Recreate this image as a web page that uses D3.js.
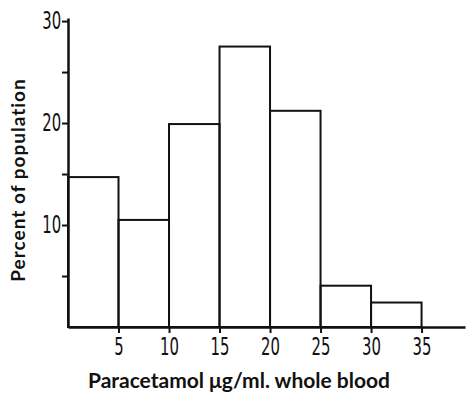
<!DOCTYPE html>
<html>
<head>
<meta charset="utf-8">
<script src="https://cdn.jsdelivr.net/npm/d3@7"></script>
<style>
  body { margin: 0; background: #fff; }
  svg { display: block; }
</style>
</head>
<body>
<div id="chart"></div>
<script>
// bin edges (µg/ml) and percent of population in each bin
const binStarts = [0, 5, 10, 15, 20, 25, 30];
const binWidth = 5;
const percents = [14.7, 10.5, 19.9, 27.5, 21.2, 4.05, 2.4];
const xTicks = [5, 10, 15, 20, 25, 30, 35];
const yTicks = [5, 10, 15, 20, 25, 30];
const yLabelled = [10, 20, 30];

const width = 467;
const height = 394;

const svg = d3.select("#chart").append("svg")
    .attr("width", width)
    .attr("height", height);

const x = d3.scaleLinear().domain([0, 39.3]).range([68, 465]);
const y = d3.scaleLinear().domain([0, 30.3]).range([327, 18]);

// bars
svg.append("g")
    .selectAll("rect")
    .data(binStarts)
    .join("rect")
    .attr("x", d => x(d))
    .attr("y", (d, i) => y(percents[i]))
    .attr("width", d => x(d + binWidth) - x(d))
    .attr("height", (d, i) => y(0) - y(percents[i]))
    .attr("fill", "none")
    .attr("stroke", "#111")
    .attr("stroke-width", 2);

// x axis
const xAxis = svg.append("g")
    .attr("transform", `translate(0,${y(0)})`)
    .call(d3.axisBottom(x).tickValues(xTicks).tickSize(6).tickSizeOuter(0));

// y axis
const yAxis = svg.append("g")
    .attr("transform", `translate(${x(0)},0)`)
    .call(d3.axisLeft(y).tickValues(yTicks).tickSize(6).tickSizeOuter(0)
        .tickFormat(d => yLabelled.includes(d) ? d : ""));

[xAxis, yAxis].forEach(g => {
    g.select(".domain").attr("stroke", "#111").attr("stroke-width", 2.5);
    g.selectAll(".tick line").attr("stroke", "#111").attr("stroke-width", 2);
    g.selectAll(".tick text")
        .attr("fill", "#111")
        .style("font-family", "DejaVu Sans")
        .style("font-size", "24px");
});

xAxis.selectAll(".tick text")
    .attr("y", 11)
    .attr("transform", "scale(0.62,1)");

yAxis.selectAll(".tick text")
    .attr("x", -11)
    .attr("transform", "scale(0.62,1)");

// axis titles
svg.append("text")
    .attr("x", 239)
    .attr("y", 388)
    .attr("text-anchor", "middle")
    .style("font-family", "Lato")
    .style("font-size", "21px")
    .style("font-weight", "bold")
    .attr("fill", "#111")
    .text("Paracetamol μg/ml. whole blood");

svg.append("text")
    .attr("transform", "translate(25,180) rotate(-90)")
    .attr("text-anchor", "middle")
    .style("font-family", "Lato")
    .style("font-size", "19px")
    .style("font-weight", "bold")
    .style("letter-spacing", "1px")
    .attr("fill", "#111")
    .text("Percent of population");
</script>
</body>
</html>
